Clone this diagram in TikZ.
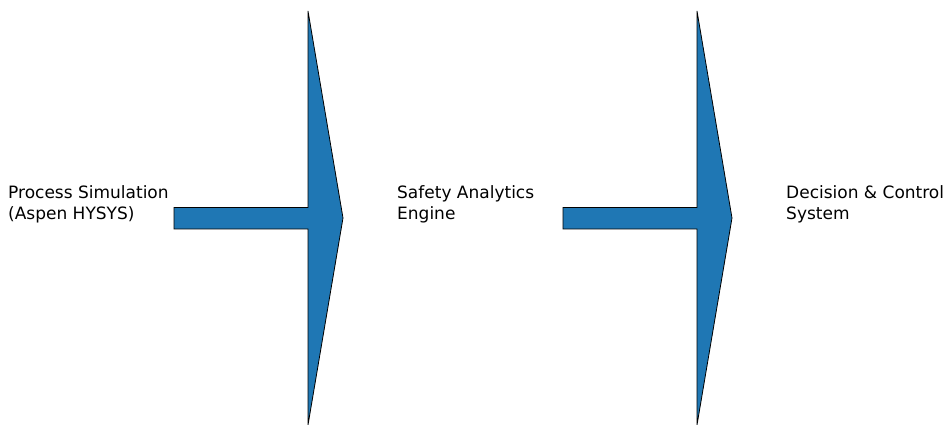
\documentclass[tikz,border=0pt]{standalone}
\usepackage{fontspec}
\setmainfont{DejaVu Sans}
\usetikzlibrary{positioning}
\definecolor{flowblue}{HTML}{1F77B4}

\begin{document}
\begin{tikzpicture}[x=1pt, y=-1pt, stage/.style={anchor=west, align=left, inner sep=0pt, font=\fontsize{17}{21}\selectfont}, flow/.style={fill=flowblue, draw=black, line width=0.8pt, line join=miter}]
	\useasboundingbox (0,0) rectangle (946,425);

	\node[stage] (sim) at (8,204)  {Process Simulation\\(Aspen HYSYS)};
	\node[stage] (eng) at (397,204)  {Safety Analytics\\Engine};
	\node[stage] (dec) at (786,204)  {Decision \& Control\\System};

	% block arrows between the stages
	\foreach \x in {174,563}
		\draw[flow] (\x,207.5) -- ++(134,0) -- ++(0,-196.5) -- ++(35,207)
			-- (\x+134,425) -- ++(0,-196) -- (\x,229) -- cycle;
\end{tikzpicture}
\end{document}
